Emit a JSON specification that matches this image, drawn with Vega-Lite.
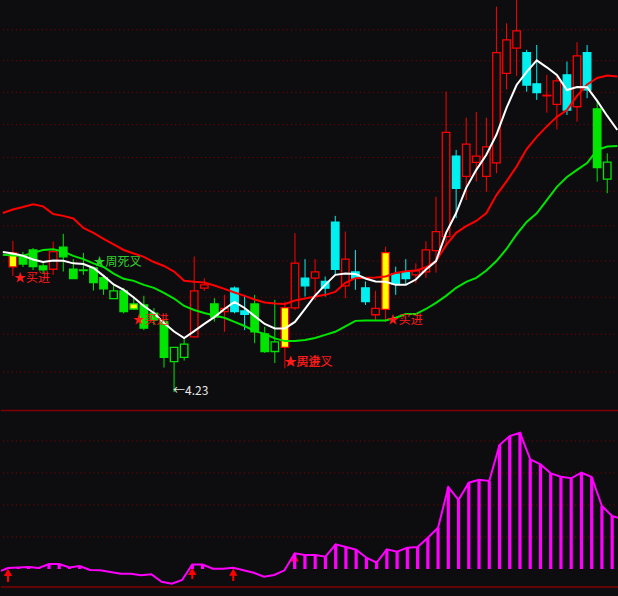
{
  "$schema": "https://vega.github.io/schema/vega-lite/v6.json",
  "background": "#0d0d10",
  "padding": 0,
  "spacing": 0,
  "config": {"view": {"stroke": null}},
  "datasets": {
    "k": [
      {"i":0,"o":4.595,"c":4.638,"h":4.675,"l":4.568,"k":"yup"},
      {"i":1,"o":4.629,"c":4.604,"h":4.641,"l":4.595,"k":"gdown"},
      {"i":2,"o":4.647,"c":4.596,"h":4.653,"l":4.586,"k":"gdown"},
      {"i":3,"o":4.598,"c":4.586,"h":4.610,"l":4.574,"k":"gdown"},
      {"i":4,"o":4.588,"c":4.642,"h":4.673,"l":4.571,"k":"up"},
      {"i":5,"o":4.656,"c":4.626,"h":4.697,"l":4.581,"k":"gdown"},
      {"i":6,"o":4.588,"c":4.560,"h":4.619,"l":4.559,"k":"gdown"},
      {"i":7,"o":4.586,"c":4.584,"h":4.638,"l":4.571,"k":"gdown"},
      {"i":8,"o":4.592,"c":4.548,"h":4.596,"l":4.524,"k":"gdown"},
      {"i":9,"o":4.563,"c":4.529,"h":4.571,"l":4.511,"k":"gdown"},
      {"i":10,"o":4.500,"c":4.523,"h":4.541,"l":4.500,"k":"gup"},
      {"i":11,"o":4.523,"c":4.461,"h":4.532,"l":4.456,"k":"gdown"},
      {"i":12,"o":4.469,"c":4.484,"h":4.506,"l":4.466,"k":"ygup"},
      {"i":13,"o":4.481,"c":4.413,"h":4.508,"l":4.407,"k":"gdown"},
      {"i":14,"o":4.457,"c":4.437,"h":4.472,"l":4.422,"k":"gdown"},
      {"i":15,"o":4.431,"c":4.328,"h":4.437,"l":4.299,"k":"gdown"},
      {"i":16,"o":4.316,"c":4.357,"h":4.357,"l":4.23,"k":"gup"},
      {"i":17,"o":4.328,"c":4.366,"h":4.383,"l":4.319,"k":"gup"},
      {"i":18,"o":4.387,"c":4.523,"h":4.627,"l":4.386,"k":"up"},
      {"i":19,"o":4.531,"c":4.541,"h":4.561,"l":4.523,"k":"up"},
      {"i":20,"o":4.484,"c":4.445,"h":4.501,"l":4.432,"k":"gdown"},
      {"i":21,"o":4.461,"c":4.471,"h":4.511,"l":4.402,"k":"up"},
      {"i":22,"o":4.531,"c":4.461,"h":4.536,"l":4.456,"k":"down"},
      {"i":23,"o":4.463,"c":4.453,"h":4.511,"l":4.407,"k":"down"},
      {"i":24,"o":4.484,"c":4.402,"h":4.511,"l":4.369,"k":"gdown"},
      {"i":25,"o":4.396,"c":4.345,"h":4.417,"l":4.341,"k":"gdown"},
      {"i":26,"o":4.345,"c":4.373,"h":4.496,"l":4.312,"k":"gup"},
      {"i":27,"o":4.357,"c":4.473,"h":4.491,"l":4.297,"k":"yup"},
      {"i":28,"o":4.472,"c":4.607,"h":4.699,"l":4.466,"k":"up"},
      {"i":29,"o":4.561,"c":4.538,"h":4.619,"l":4.506,"k":"down"},
      {"i":30,"o":4.561,"c":4.580,"h":4.619,"l":4.496,"k":"up"},
      {"i":31,"o":4.551,"c":4.531,"h":4.566,"l":4.506,"k":"down"},
      {"i":32,"o":4.733,"c":4.588,"h":4.753,"l":4.574,"k":"down"},
      {"i":33,"o":4.538,"c":4.619,"h":4.704,"l":4.501,"k":"up"},
      {"i":34,"o":4.580,"c":4.561,"h":4.647,"l":4.526,"k":"down"},
      {"i":35,"o":4.532,"c":4.491,"h":4.551,"l":4.481,"k":"down"},
      {"i":36,"o":4.452,"c":4.471,"h":4.523,"l":4.434,"k":"up"},
      {"i":37,"o":4.468,"c":4.639,"h":4.657,"l":4.431,"k":"yup"},
      {"i":38,"o":4.574,"c":4.544,"h":4.596,"l":4.511,"k":"down"},
      {"i":39,"o":4.578,"c":4.560,"h":4.619,"l":4.541,"k":"down"},
      {"i":40,"o":4.571,"c":4.583,"h":4.606,"l":4.546,"k":"up"},
      {"i":41,"o":4.580,"c":4.647,"h":4.674,"l":4.562,"k":"up"},
      {"i":42,"o":4.645,"c":4.704,"h":4.814,"l":4.578,"k":"up"},
      {"i":43,"o":4.688,"c":5.023,"h":5.160,"l":4.657,"k":"up"},
      {"i":44,"o":4.945,"c":4.840,"h":4.965,"l":4.746,"k":"down"},
      {"i":45,"o":4.879,"c":4.984,"h":5.072,"l":4.803,"k":"up"},
      {"i":46,"o":4.924,"c":4.945,"h":5.091,"l":4.862,"k":"up"},
      {"i":47,"o":4.879,"c":4.975,"h":5.072,"l":4.830,"k":"up"},
      {"i":48,"o":4.923,"c":5.295,"h":5.459,"l":4.889,"k":"up"},
      {"i":49,"o":5.223,"c":5.340,"h":5.399,"l":5.168,"k":"up"},
      {"i":50,"o":5.311,"c":5.372,"h":5.483,"l":5.214,"k":"up"},
      {"i":51,"o":5.295,"c":5.183,"h":5.305,"l":5.160,"k":"down"},
      {"i":52,"o":5.187,"c":5.157,"h":5.322,"l":5.132,"k":"down"},
      {"i":53,"o":5.148,"c":5.146,"h":5.218,"l":5.089,"k":"up"},
      {"i":54,"o":5.117,"c":5.197,"h":5.218,"l":5.033,"k":"up"},
      {"i":55,"o":5.218,"c":5.098,"h":5.264,"l":5.081,"k":"down"},
      {"i":56,"o":5.109,"c":5.284,"h":5.332,"l":5.059,"k":"up"},
      {"i":57,"o":5.295,"c":5.166,"h":5.322,"l":5.138,"k":"down"},
      {"i":58,"o":5.102,"c":4.907,"h":5.132,"l":4.862,"k":"gdown"},
      {"i":59,"o":4.870,"c":4.925,"h":4.954,"l":4.825,"k":"gup"}
    ],
    "ma": [
      {"i":-1,"w":4.641,"r":4.762,"g":4.632},
      {"i":0,"w":4.636,"r":4.773,"g":4.630},
      {"i":1,"w":4.629,"r":4.781,"g":4.629},
      {"i":2,"w":4.618,"r":4.790,"g":4.638},
      {"i":3,"w":4.610,"r":4.783,"g":4.647},
      {"i":4,"w":4.615,"r":4.759,"g":4.649},
      {"i":5,"w":4.614,"r":4.753,"g":4.642},
      {"i":6,"w":4.606,"r":4.745,"g":4.629},
      {"i":7,"w":4.604,"r":4.715,"g":4.619},
      {"i":8,"w":4.592,"r":4.700,"g":4.606},
      {"i":9,"w":4.568,"r":4.681,"g":4.595},
      {"i":10,"w":4.542,"r":4.664,"g":4.575},
      {"i":11,"w":4.526,"r":4.647,"g":4.559},
      {"i":12,"w":4.503,"r":4.636,"g":4.553},
      {"i":13,"w":4.478,"r":4.626,"g":4.541},
      {"i":14,"w":4.457,"r":4.610,"g":4.532},
      {"i":15,"w":4.428,"r":4.598,"g":4.517},
      {"i":16,"w":4.403,"r":4.581,"g":4.500},
      {"i":17,"w":4.384,"r":4.553,"g":4.478},
      {"i":18,"w":4.404,"r":4.550,"g":4.466},
      {"i":19,"w":4.425,"r":4.548,"g":4.457},
      {"i":20,"w":4.445,"r":4.539,"g":4.450},
      {"i":21,"w":4.469,"r":4.529,"g":4.443},
      {"i":22,"w":4.490,"r":4.518,"g":4.431},
      {"i":23,"w":4.472,"r":4.508,"g":4.419},
      {"i":24,"w":4.448,"r":4.497,"g":4.404},
      {"i":25,"w":4.425,"r":4.488,"g":4.396},
      {"i":26,"w":4.412,"r":4.485,"g":4.383},
      {"i":27,"w":4.412,"r":4.484,"g":4.375},
      {"i":28,"w":4.431,"r":4.494,"g":4.375},
      {"i":29,"w":4.469,"r":4.500,"g":4.378},
      {"i":30,"w":4.509,"r":4.506,"g":4.384},
      {"i":31,"w":4.541,"r":4.511,"g":4.393},
      {"i":32,"w":4.571,"r":4.520,"g":4.402},
      {"i":33,"w":4.575,"r":4.547,"g":4.418},
      {"i":34,"w":4.574,"r":4.561,"g":4.434},
      {"i":35,"w":4.560,"r":4.562,"g":4.435},
      {"i":36,"w":4.551,"r":4.563,"g":4.435},
      {"i":37,"w":4.550,"r":4.566,"g":4.435},
      {"i":38,"w":4.541,"r":4.577,"g":4.443},
      {"i":39,"w":4.541,"r":4.582,"g":4.454},
      {"i":40,"w":4.557,"r":4.584,"g":4.454},
      {"i":41,"w":4.587,"r":4.594,"g":4.469},
      {"i":42,"w":4.613,"r":4.613,"g":4.487},
      {"i":43,"w":4.700,"r":4.662,"g":4.508},
      {"i":44,"w":4.762,"r":4.700,"g":4.532},
      {"i":45,"w":4.842,"r":4.721,"g":4.550},
      {"i":46,"w":4.900,"r":4.737,"g":4.562},
      {"i":47,"w":4.949,"r":4.762,"g":4.584},
      {"i":48,"w":5.015,"r":4.819,"g":4.613},
      {"i":49,"w":5.105,"r":4.863,"g":4.650},
      {"i":50,"w":5.183,"r":4.911,"g":4.695},
      {"i":51,"w":5.228,"r":4.968,"g":4.734},
      {"i":52,"w":5.268,"r":5.008,"g":4.761},
      {"i":53,"w":5.244,"r":5.043,"g":4.803},
      {"i":54,"w":5.218,"r":5.075,"g":4.845},
      {"i":55,"w":5.166,"r":5.098,"g":4.877},
      {"i":56,"w":5.176,"r":5.146,"g":4.900},
      {"i":57,"w":5.175,"r":5.185,"g":4.922},
      {"i":58,"w":5.129,"r":5.207,"g":4.965},
      {"i":59,"w":5.078,"r":5.216,"g":4.976},
      {"i":60,"w":5.031,"r":5.212,"g":4.978}
    ],
    "grid": [
      {"p":4.286},{"p":4.395},{"p":4.504},{"p":4.613},{"p":4.722},{"p":4.831},
      {"p":4.940},{"p":5.049},{"p":5.158},{"p":5.267},{"p":5.376}
    ],
    "labels": [
      {"i":0.1,"p":4.562,"t":"★买进","c":"lr"},
      {"i":8.0,"p":4.610,"t":"★周死叉","c":"lg"},
      {"i":11.9,"p":4.437,"t":"★买进","c":"lr"},
      {"i":26.95,"p":4.315,"t":"★周金叉","c":"lr"},
      {"i":26.95,"p":4.315,"t":"★买进","c":"lr"},
      {"i":37.1,"p":4.437,"t":"★买进","c":"lr"},
      {"i":15.9,"p":4.233,"t":"←4.23","c":"lw"}
    ],
    "ind": [
      {"i":-1,"v":-0.94},{"i":0,"v":0.31},{"i":1,"v":0.47},{"i":2,"v":0.63},{"i":3,"v":0.31},
      {"i":4,"v":1.56},{"i":5,"v":1.56},{"i":6,"v":0.47},{"i":7,"v":0.94},{"i":8,"v":-0.31},
      {"i":9,"v":-0.41},{"i":10,"v":-0.94},{"i":11,"v":-1.47},{"i":12,"v":-1.47},{"i":13,"v":-1.97},
      {"i":14,"v":-1.66},{"i":15,"v":-3.97},{"i":16,"v":-4.59},{"i":17,"v":-3.44},{"i":18,"v":1.4},
      {"i":19,"v":1.4},{"i":20,"v":0.09},{"i":21,"v":0.09},{"i":22,"v":0.41},{"i":23,"v":-0.41},
      {"i":24,"v":-1.16},{"i":25,"v":-2.4},{"i":26,"v":-1.88},{"i":27,"v":-0.41},{"i":28,"v":4.9},
      {"i":29,"v":4.38},{"i":30,"v":4.38},{"i":31,"v":3.84},{"i":32,"v":7.72},{"i":33,"v":6.88},
      {"i":34,"v":6.03},{"i":35,"v":3.53},{"i":36,"v":1.97},{"i":37,"v":6.16},{"i":38,"v":5.41},
      {"i":39,"v":6.66},{"i":40,"v":6.88},{"i":41,"v":9.78},{"i":42,"v":12.9},{"i":43,"v":25.6},
      {"i":44,"v":21.6},{"i":45,"v":26.97},{"i":46,"v":27.9},{"i":47,"v":27.5},{"i":48,"v":38.75},
      {"i":49,"v":41.56},{"i":50,"v":42.6},{"i":51,"v":34.28},{"i":52,"v":32.72},{"i":53,"v":29.9},
      {"i":54,"v":28.84},{"i":55,"v":28.34},{"i":56,"v":30.1},{"i":57,"v":28.75},{"i":58,"v":19.69},
      {"i":59,"v":16.56},{"i":60,"v":15.6}
    ],
    "igrid": [{"v":10},{"v":20},{"v":30},{"v":40}],
    "iframe": [{"v":49.53},{"v":-5.63}],
    "arrows": [
      {"i":0,"a":-1.09,"b":-4.06},
      {"i":18,"a":-0.78,"b":-3.13},
      {"i":22,"a":-0.94,"b":-3.75},
      {"i":28,"a":3.44,"b":0.63}
    ]
  },
  "vconcat": [
    {
      "width": 618,
      "height": 409,
      "resolve": {"scale": {"color": "independent"}},
      "layer": [
        {
          "data": {"name": "grid"},
          "mark": {"type": "rule", "color": "#8a0000", "strokeWidth": 1, "strokeDash": [1, 3.3]},
          "encoding": {
            "y": {"field": "p", "type": "quantitative", "axis": null, "scale": {"type": "log", "domain": [4.1828, 5.4829], "nice": false}}
          }
        },
        {
          "data": {"name": "k"},
          "mark": {"type": "rule", "strokeWidth": 1, "clip": true},
          "encoding": {
            "x": {"field": "i", "type": "quantitative", "axis": null, "scale": {"domain": [-0.684, 59.67], "nice": false, "zero": false}},
            "y": {"field": "h", "type": "quantitative", "axis": null, "scale": {"type": "log", "domain": [4.1828, 5.4829], "nice": false}},
            "y2": {"field": "l"},
            "color": {"field": "k", "type": "nominal", "legend": null,
              "scale": {"domain": ["up","down","gdown","gup","yup","ygup"], "range": ["#ff0000","#00f0f0","#00e600","#00e600","#ff0000","#00e600"]}}
          }
        },
        {
          "data": {"name": "k"},
          "mark": {"type": "bar", "size": 7.5, "strokeWidth": 1.3, "clip": true},
          "encoding": {
            "x": {"field": "i", "type": "quantitative", "axis": null, "scale": {"domain": [-0.684, 59.67], "nice": false, "zero": false}},
            "y": {"field": "o", "type": "quantitative", "axis": null, "scale": {"type": "log", "domain": [4.1828, 5.4829], "nice": false}},
            "y2": {"field": "c"},
            "fill": {"field": "k", "type": "nominal", "legend": null,
              "scale": {"domain": ["up","down","gdown","gup","yup","ygup"], "range": ["#0d0d10","#00f0f0","#00e600","#0d0d10","#ffff00","#ffff00"]}},
            "stroke": {"field": "k", "type": "nominal", "legend": null,
              "scale": {"domain": ["up","down","gdown","gup","yup","ygup"], "range": ["#ff0000","#00f0f0","#00e600","#00e600","#ff0000","#00e600"]}}
          }
        },
        {
          "data": {"name": "ma"},
          "mark": {"type": "line", "color": "#00e600", "strokeWidth": 2, "clip": true},
          "encoding": {
            "x": {"field": "i", "type": "quantitative", "axis": null, "scale": {"domain": [-0.684, 59.67], "nice": false, "zero": false}},
            "y": {"field": "g", "type": "quantitative", "axis": null, "scale": {"type": "log", "domain": [4.1828, 5.4829], "nice": false}}
          }
        },
        {
          "data": {"name": "ma"},
          "mark": {"type": "line", "color": "#ff0000", "strokeWidth": 2, "clip": true},
          "encoding": {
            "x": {"field": "i", "type": "quantitative", "axis": null, "scale": {"domain": [-0.684, 59.67], "nice": false, "zero": false}},
            "y": {"field": "r", "type": "quantitative", "axis": null, "scale": {"type": "log", "domain": [4.1828, 5.4829], "nice": false}}
          }
        },
        {
          "data": {"name": "ma"},
          "mark": {"type": "line", "color": "#ffffff", "strokeWidth": 2, "clip": true},
          "encoding": {
            "x": {"field": "i", "type": "quantitative", "axis": null, "scale": {"domain": [-0.684, 59.67], "nice": false, "zero": false}},
            "y": {"field": "w", "type": "quantitative", "axis": null, "scale": {"type": "log", "domain": [4.1828, 5.4829], "nice": false}}
          }
        },
        {
          "data": {"name": "labels"},
          "mark": {"type": "text", "align": "left", "baseline": "middle", "font": "Noto Sans CJK SC", "fontSize": 12},
          "encoding": {
            "x": {"field": "i", "type": "quantitative", "axis": null, "scale": {"domain": [-0.684, 59.67], "nice": false, "zero": false}},
            "y": {"field": "p", "type": "quantitative", "axis": null, "scale": {"type": "log", "domain": [4.1828, 5.4829], "nice": false}},
            "text": {"field": "t"},
            "color": {"field": "c", "type": "nominal", "legend": null,
              "scale": {"domain": ["lr","lg","lw"], "range": ["#ff1a1a","#2fcf2f","#e8e8e8"]}}
          }
        }
      ]
    },
    {
      "width": 618,
      "height": 187,
      "layer": [
        {
          "data": {"name": "igrid"},
          "mark": {"type": "rule", "color": "#8a0000", "strokeWidth": 1, "strokeDash": [1, 3.3]},
          "encoding": {
            "y": {"field": "v", "type": "quantitative", "axis": null, "scale": {"domain": [-8.75, 49.69], "nice": false, "zero": false}}
          }
        },
        {
          "data": {"name": "iframe"},
          "mark": {"type": "rule", "color": "#800000", "strokeWidth": 1.5},
          "encoding": {
            "y": {"field": "v", "type": "quantitative", "axis": null, "scale": {"domain": [-8.75, 49.69], "nice": false, "zero": false}}
          }
        },
        {
          "data": {"name": "arrows"},
          "mark": {"type": "rule", "color": "#ff0000", "strokeWidth": 2},
          "encoding": {
            "x": {"field": "i", "type": "quantitative", "axis": null, "scale": {"domain": [-0.684, 59.67], "nice": false, "zero": false}},
            "y": {"field": "a", "type": "quantitative", "axis": null, "scale": {"domain": [-8.75, 49.69], "nice": false, "zero": false}},
            "y2": {"field": "b"}
          }
        },
        {
          "data": {"name": "arrows"},
          "mark": {"type": "point", "shape": "triangle-up", "filled": true, "color": "#ff0000", "size": 70, "opacity": 1},
          "encoding": {
            "x": {"field": "i", "type": "quantitative", "axis": null, "scale": {"domain": [-0.684, 59.67], "nice": false, "zero": false}},
            "y": {"field": "a", "type": "quantitative", "axis": null, "scale": {"domain": [-8.75, 49.69], "nice": false, "zero": false}}
          }
        },
        {
          "data": {"name": "ind"},
          "transform": [{"filter": "datum.v > 0"}],
          "mark": {"type": "rule", "color": "#ff00ff", "strokeWidth": 3.2, "clip": true},
          "encoding": {
            "x": {"field": "i", "type": "quantitative", "axis": null, "scale": {"domain": [-0.684, 59.67], "nice": false, "zero": false}},
            "y": {"field": "v", "type": "quantitative", "axis": null, "scale": {"domain": [-8.75, 49.69], "nice": false, "zero": false}},
            "y2": {"datum": 0}
          }
        },
        {
          "data": {"name": "ind"},
          "mark": {"type": "line", "color": "#ff00ff", "strokeWidth": 2, "clip": true},
          "encoding": {
            "x": {"field": "i", "type": "quantitative", "axis": null, "scale": {"domain": [-0.684, 59.67], "nice": false, "zero": false}},
            "y": {"field": "v", "type": "quantitative", "axis": null, "scale": {"domain": [-8.75, 49.69], "nice": false, "zero": false}}
          }
        }
      ]
    }
  ]
}
